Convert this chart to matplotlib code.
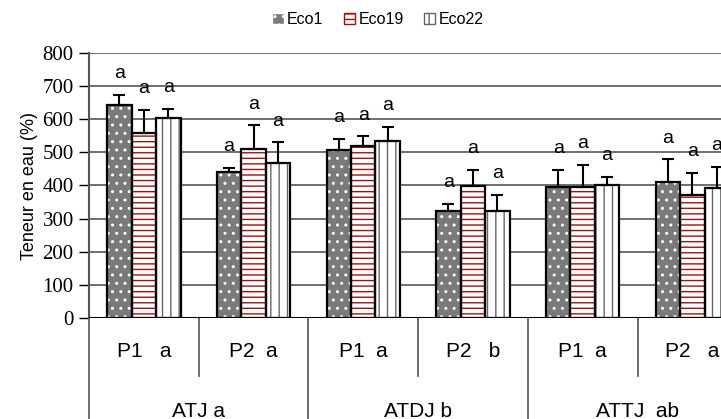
import numpy as np
import matplotlib.pyplot as plt
import matplotlib.transforms as mtransforms
from matplotlib.patches import Patch

# data
series = ['Eco1', 'Eco19', 'Eco22']
sub_labels = ['P1   a', 'P2  a', 'P1  a', 'P2   b', 'P1  a', 'P2   a']
main_labels = ['ATJ a', 'ATDJ b', 'ATTJ  ab']
eco1 = [643, 440, 507, 322, 396, 410]
eco19 = [559, 510, 518, 398, 396, 371]
eco22 = [603, 469, 534, 322, 401, 392]
eco1_err = [30, 14, 34, 23, 51, 69]
eco19_err = [69, 72, 30, 49, 66, 68]
eco22_err = [28, 62, 43, 50, 26, 64]
letters = ['a'] * 6

values = [eco1, eco19, eco22]
errors = [eco1_err, eco19_err, eco22_err]
faces = ['#7a7a7a', 'white', 'white']
hatches = ['..', '---', '||']
hatch_cols = ['white', '#a01010', '#666666']

plt.rcParams['hatch.linewidth'] = 1.0
sans = 'Liberation Sans'
serif = 'Liberation Serif'

fig = plt.figure(figsize=(7.21, 4.19), dpi=100)
ax = fig.add_axes([89 / 721, 101 / 419, 6 * 109.7 / 721, 265 / 419])

x = np.arange(6) + 0.5
w = 0.223
for k in range(3):
    xs = x + (k - 1) * w
    # hatch layer, then black outline on top
    ax.bar(xs, values[k], w, color=faces[k], hatch=hatches[k],
           edgecolor=hatch_cols[k], linewidth=0, zorder=2)
    ax.bar(xs, values[k], w, fill=False, edgecolor='black', linewidth=1.6, zorder=3)
    ax.errorbar(xs, values[k], yerr=[np.zeros(6), errors[k]], fmt='none',
                ecolor='black', elinewidth=1.5, capsize=4, capthick=1.5, zorder=4)
    tops = np.array(values[k]) + np.array(errors[k])
    for xi, t, lab in zip(xs, tops, letters):
        ax.text(xi, t + 38, lab, ha='center', va='bottom', fontsize=14,
                family=sans, zorder=5)

ax.set_xlim(0, 6)
ax.set_ylim(0, 800)
ax.set_yticks(range(0, 801, 100))
ax.set_xticks([])
ax.grid(axis='y', color='#555555', linewidth=1.2, zorder=0)
ax.set_axisbelow(True)
for s in ['top', 'right', 'bottom']:
    ax.spines[s].set_visible(False)
ax.spines['left'].set_color('#555555')
ax.spines['left'].set_linewidth(1.5)
ax.axhline(0, color='black', linewidth=1.5, zorder=3)
ax.tick_params(axis='y', length=7, width=1, pad=4, labelsize=15,
               labelfontfamily=serif)

ax.set_ylabel('Teneur en eau (%)', family=sans, fontsize=13, labelpad=3)

# two-level category axis below
trans = mtransforms.blended_transform_factory(ax.transData, ax.transAxes)
for i in range(7):
    if i % 2 == 0:
        ax.plot([i, i], [0, -101 / 265], color='#555555', lw=1.2, transform=trans, clip_on=False)
    else:
        ax.plot([i, i], [0, -58 / 265], color='#555555', lw=1.2, transform=trans, clip_on=False)
for i, lab in enumerate(sub_labels):
    ax.text(i + 0.5, -33 / 265, lab, ha='center', va='center', fontsize=15,
            family=sans, transform=trans)
for j, lab in enumerate(main_labels):
    ax.text(2 * j + 1, -93 / 265, lab, ha='center', va='center', fontsize=15,
            family=sans, transform=trans)

handles = [Patch(facecolor=faces[k], hatch=hatches[k], edgecolor=hatch_cols[k]) for k in range(3)]
leg = fig.legend(handles, series, loc='center', bbox_to_anchor=(378 / 721, 1 - 20 / 419),
                 ncol=3, frameon=False, handlelength=0.7, handleheight=0.7,
                 handletextpad=0.2, columnspacing=1.3, prop={'family': sans, 'size': 11.5})

fig.savefig('out.png', dpi=100)
